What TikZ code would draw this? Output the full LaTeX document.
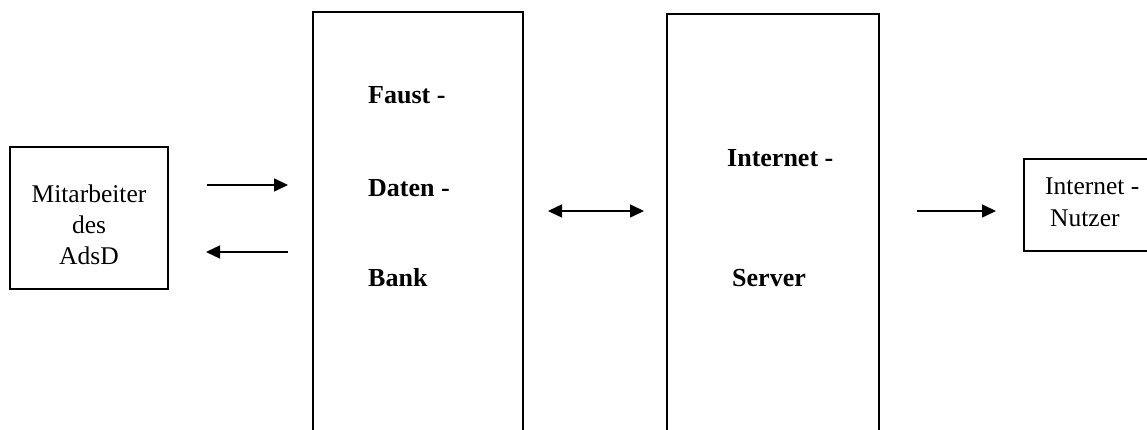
\documentclass[tikz,border=0pt]{standalone}
\usepackage{fontspec}
\setmainfont{Liberation Serif}
\usetikzlibrary{arrows.meta}
\begin{document}
\begin{tikzpicture}[x=1pt,y=-1pt,
  box/.style={draw,line width=1.6pt},
  nlbl/.style={font=\fontsize{25.5}{27}\selectfont,inner sep=0pt},
  lbl/.style={nlbl,anchor=mid west},
  blbl/.style={lbl,font=\fontsize{26}{28}\selectfont\bfseries},
  tip/.tip={Triangle[length=14pt,width=13pt]},
  conn/.style={line width=1.5pt,-tip},
  dconn/.style={line width=1.5pt,tip-tip}]
\useasboundingbox (0,0) rectangle (1147,430);
\begin{scope}
\clip (0,0) rectangle (1147,430);
% boxes
\draw[box] (10,147) rectangle (168,289);
\draw[box] (313,12) rectangle (523,445);
\draw[box] (667,14) rectangle (879,445);
\draw[box] (1024,159) rectangle (1160,251);
\end{scope}
% texts
\node[nlbl] (mit) at (89,194) {Mitarbeiter};
\node[nlbl] (des) at (89,225) {des};
\node[nlbl] (adsd) at (89,256) {AdsD};
\node[blbl] (faust) at (368,101) {Faust -};
\node[blbl] (daten) at (368,194) {Daten -};
\node[blbl] (bank) at (368,284) {Bank};
\node[blbl] (inet) at (727,164) {Internet -};
\node[blbl] (server) at (732,284) {Server};
\node[lbl] (inutz) at (1045,192) {Internet -};
\node[lbl] (nutzer) at (1050,224) {Nutzer};
% connector end points
\coordinate (a1) at (207,185);
\coordinate (a2) at (288,185);
\coordinate (b1) at (288,252);
\coordinate (b2) at (206,252);
\coordinate (c1) at (548,211);
\coordinate (c2) at (644,211);
\coordinate (d1) at (917,211);
\coordinate (d2) at (996,211);
\draw[conn] (a1) -- (a2);
\draw[conn] (b1) -- (b2);
\draw[dconn] (c1) -- (c2);
\draw[conn] (d1) -- (d2);
\end{tikzpicture}
\end{document}
